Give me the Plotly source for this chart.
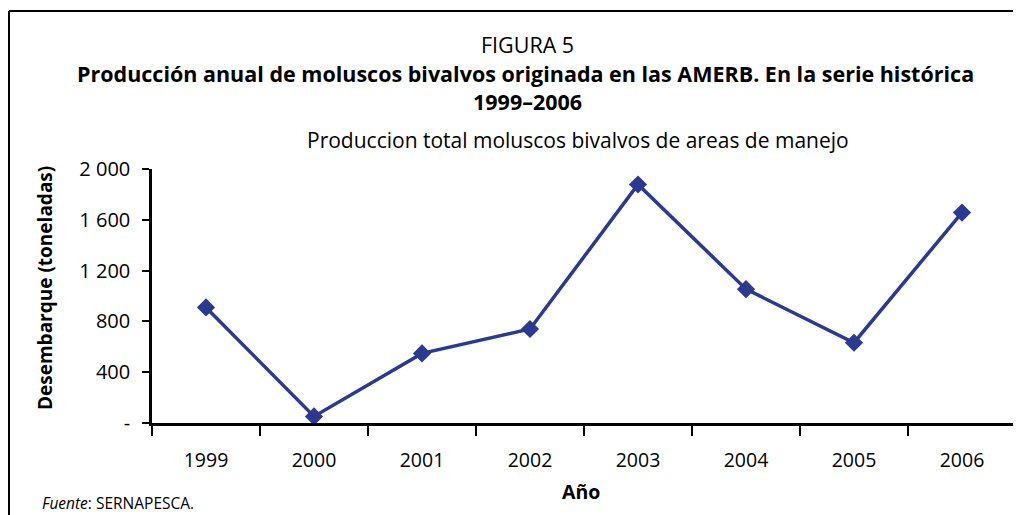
import plotly.graph_objects as go

years = ["1999", "2000", "2001", "2002", "2003", "2004", "2005", "2006"]
produccion = [910, 52, 548, 740, 1878, 1054, 632, 1657]
ytick_vals = [0, 400, 800, 1200, 1600, 2000]
ytick_text = ["-", "400", "800", "1 200", "1 600", "2 000"]

W, H = 1021, 515
OFF = 8  # page body margin
L, R, T, B = 152, 1016, 169, 423  # plot area pixel box (reference coords)

def px(x):
    return (x - L) / (R - L)

def py(y):
    return (B - y) / (B - T)

FONT = "Open Sans"
LINE = "#2B3990"

fig = go.Figure()
fig.add_trace(go.Scatter(
    x=years, y=produccion, mode="lines+markers",
    line=dict(color=LINE, width=3.5),
    marker=dict(symbol="diamond", size=14, color=LINE),
    showlegend=False, cliponaxis=False,
))

fig.update_layout(
    width=W - OFF, height=H - OFF,
    margin=dict(l=L - OFF, r=W - R, t=T - OFF, b=H - B, pad=0),
    paper_bgcolor="white", plot_bgcolor="white",
    font=dict(family=FONT, color="black"),
    xaxis=dict(
        type="category", tickson="boundaries", ticks="outside", ticklen=10,
        tickwidth=2, tickcolor="black", showline=True, linecolor="black",
        linewidth=2.5, showgrid=False, zeroline=False,
        tickfont=dict(size=19.5, family=FONT), ticklabelstandoff=18,
        range=[-0.5, 7.5],
    ),
    yaxis=dict(
        range=[0, 2000], tickvals=ytick_vals, ticktext=ytick_text,
        ticks="outside", ticklen=7, tickwidth=2, tickcolor="black",
        showline=True, linecolor="black", linewidth=2.5, showgrid=False,
        zeroline=False, tickfont=dict(size=20, family=FONT),
        ticklabelstandoff=8,
    ),
)

ann = [
    dict(text="FIGURA 5", x=px(527), y=py(44), size=21.5),
    dict(text="<b>Producción anual de moluscos bivalvos originada en las AMERB. En la serie histórica</b>",
         x=px(525), y=py(73), size=21.5),
    dict(text="<b>1999–2006</b>", x=px(527), y=py(101), size=21.5),
    dict(text="Produccion total moluscos bivalvos de areas de manejo", x=px(578), y=py(140), size=21),
    dict(text="<b>Año</b>", x=px(581), y=py(491), size=19.5),
]
for a in ann:
    fig.add_annotation(text=a["text"], x=a["x"], y=a["y"], xref="paper", yref="paper",
                       xanchor="center", yanchor="middle", showarrow=False,
                       font=dict(size=a["size"], family=FONT, color="black"))

fig.add_annotation(text="<b>Desembarque (toneladas)</b>", x=px(45), y=py(288),
                   xref="paper", yref="paper", textangle=-90, showarrow=False,
                   xanchor="center", yanchor="middle",
                   font=dict(size=19, family=FONT, color="black"))
fig.add_annotation(text="<i>Fuente</i>: SERNAPESCA.", x=px(40), y=py(503),
                   xref="paper", yref="paper", showarrow=False,
                   xanchor="left", yanchor="middle",
                   font=dict(size=15.5, family=FONT, color="black"))

# frame lines
fig.add_shape(type="line", xref="paper", yref="paper", x0=px(9), x1=px(1021), y0=py(11), y1=py(11),
              line=dict(color="black", width=2))
fig.add_shape(type="line", xref="paper", yref="paper", x0=px(9), x1=px(9), y0=py(11), y1=py(515),
              line=dict(color="black", width=2))

fig.write_html("out.html")
